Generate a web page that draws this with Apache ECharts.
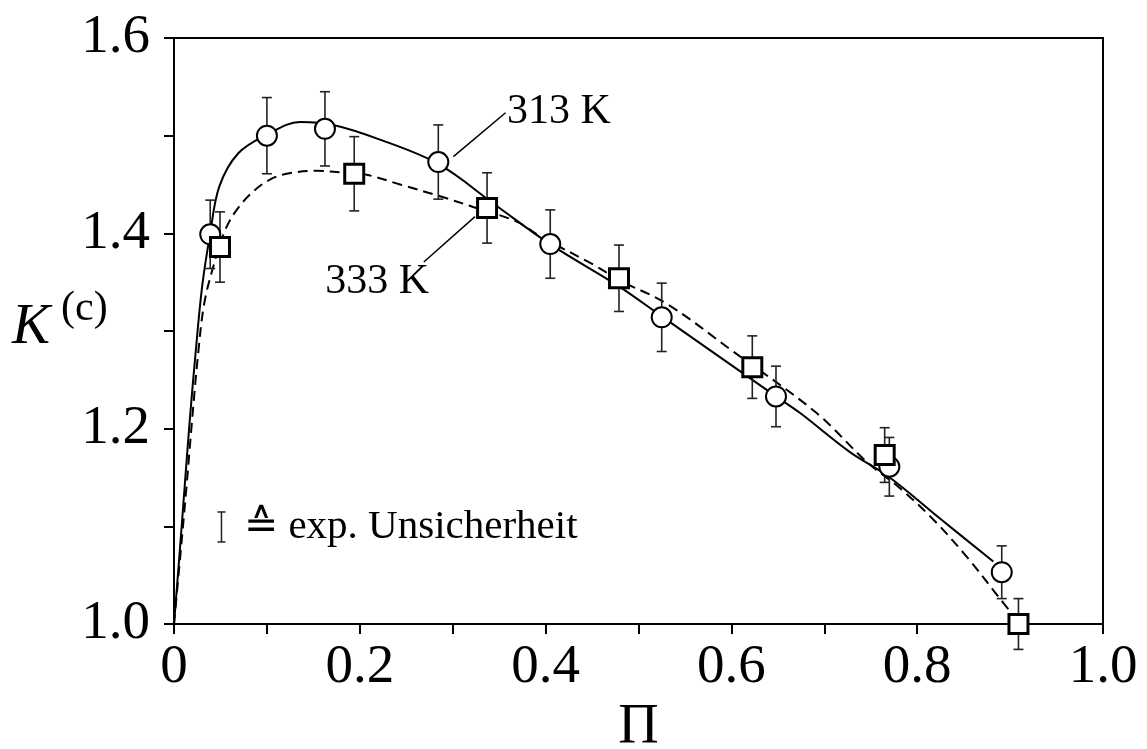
<!DOCTYPE html>
<html>
<head>
<meta charset="utf-8">
<script src="https://cdn.jsdelivr.net/npm/echarts@6/dist/echarts.min.js"></script>
<style>
  html, body { margin: 0; padding: 0; background: #fff; }
  #chart { width: 1147px; height: 749px; }
</style>
</head>
<body>
<div id="chart"></div>
<script>
// Measured K(c) values with experimental uncertainty, 313 K (circles)
const circlePi  = [0.039, 0.100, 0.1625, 0.2845, 0.405, 0.525, 0.648, 0.770, 0.891];
const circleK   = [1.399, 1.500, 1.507, 1.473, 1.389, 1.314, 1.233, 1.161, 1.053];
const circleErr = [0.035, 0.039, 0.038, 0.038, 0.035, 0.035, 0.031, 0.030, 0.027];

// Measured values, 333 K (squares)
const squarePi  = [0.0495, 0.194, 0.337, 0.479, 0.6225, 0.765, 0.909];
const squareK   = [1.386, 1.461, 1.426, 1.354, 1.263, 1.173, 1.000];
const squareErr = [0.036, 0.038, 0.036, 0.034, 0.032, 0.028, 0.026];

// Fitted curve, 313 K (solid)
const fit313Pi = [0, 0.006, 0.0115, 0.017, 0.0232, 0.0302, 0.0388, 0.0488, 0.0692, 0.100, 0.1356, 0.1715,
                  0.2217, 0.2845, 0.3474, 0.4047, 0.4801, 0.525, 0.648, 0.674, 0.7276, 0.769, 0.8245, 0.8819];
const fit313K  = [1.000, 1.072, 1.141, 1.209, 1.277, 1.345, 1.399, 1.448, 1.482, 1.501, 1.514, 1.511,
                  1.496, 1.471, 1.428, 1.389, 1.345, 1.315, 1.233, 1.216, 1.176, 1.151, 1.108, 1.064];

// Fitted curve, 333 K (dashed)
const fit333Pi = [0, 0.007, 0.0135, 0.0195, 0.026, 0.0325, 0.0423, 0.0549, 0.0675, 0.0854, 0.1033, 0.1213,
                  0.1536, 0.184, 0.2074, 0.2433, 0.2863, 0.322, 0.3689, 0.394, 0.4513, 0.4794, 0.5303, 0.602,
                  0.6918, 0.7456, 0.7815, 0.8173, 0.8532, 0.889, 0.900];
const fit333K  = [1.000, 1.072, 1.141, 1.209, 1.277, 1.328, 1.366, 1.403, 1.424, 1.443, 1.455, 1.461,
                  1.464, 1.462, 1.460, 1.450, 1.438, 1.427, 1.412, 1.397, 1.368, 1.352, 1.328, 1.279,
                  1.216, 1.166, 1.139, 1.107, 1.069, 1.026, 1.013];

const xTicks = [0, 0.2, 0.4, 0.6, 0.8, 1.0];
const yTicks = [1.0, 1.2, 1.4, 1.6];
const label313 = '313 K';
const label333 = '333 K';
const noteText = '≙ exp. Unsicherheit';

const FONT = '"Liberation Serif", "Times New Roman", "DejaVu Serif", serif';

const zip = (a, b) => a.map((v, i) => [v, b[i]]);
const errRows = (xs, ys, es) => xs.map((x, i) => [x, ys[i] - es[i], ys[i] + es[i]]);

function errorBarItem(params, api) {
  const x = api.value(0);
  const p1 = api.coord([x, api.value(1)]);
  const p2 = api.coord([x, api.value(2)]);
  const w = 5;
  const style = { stroke: '#222', lineWidth: 1.6, fill: null };
  return {
    type: 'group',
    children: [
      { type: 'line', shape: { x1: p1[0], y1: p1[1], x2: p2[0], y2: p2[1] }, style },
      { type: 'line', shape: { x1: p1[0] - w, y1: p1[1], x2: p1[0] + w, y2: p1[1] }, style },
      { type: 'line', shape: { x1: p2[0] - w, y1: p2[1], x2: p2[0] + w, y2: p2[1] }, style }
    ]
  };
}

const chart = echarts.init(document.getElementById('chart'), null, { renderer: 'canvas' });

const axisLine = { show: true, onZero: false, lineStyle: { color: '#000', width: 2 } };
const tick = { show: true, inside: false, length: 10, lineStyle: { color: '#000', width: 2 } };

chart.setOption({
  animation: false,
  backgroundColor: '#fff',
  grid: {
    left: 174, right: 44, top: 38, bottom: 125,
    containLabel: false, outerBoundsMode: 'none',
    show: true, borderColor: '#000', borderWidth: 2
  },
  xAxis: {
    type: 'value', min: 0, max: 1, interval: 0.2,
    axisLine, axisTick: tick,
    minorTick: { show: true, splitNumber: 2, length: 10, lineStyle: { color: '#000', width: 2 } },
    splitLine: { show: false },
    axisLabel: {
      color: '#000', fontFamily: FONT, fontSize: 55, margin: 16,
      formatter: v => {
        const t = xTicks.find(x => Math.abs(x - v) < 1e-9);
        return t === undefined ? '' : (t === 0 ? '0' : t.toFixed(1));
      }
    },
    name: 'Π', nameLocation: 'middle', nameGap: 76,
    nameTextStyle: { color: '#000', fontFamily: FONT, fontSize: 56 }
  },
  yAxis: {
    type: 'value', min: 1.0, max: 1.6, interval: 0.2,
    axisLine, axisTick: tick,
    minorTick: { show: true, splitNumber: 2, length: 10, lineStyle: { color: '#000', width: 2 } },
    splitLine: { show: false },
    axisLabel: {
      color: '#000', fontFamily: FONT, fontSize: 55, margin: 24,
      formatter: v => {
        const t = yTicks.find(y => Math.abs(y - v) < 1e-9);
        return t === undefined ? '' : t.toFixed(1);
      }
    }
  },
  series: [
    {
      name: '313 K fit', type: 'line', data: zip(fit313Pi, fit313K),
      smooth: 0.35, showSymbol: false, symbol: 'none', z: 2,
      lineStyle: { color: '#000', width: 2 }
    },
    {
      name: '333 K fit', type: 'line', data: zip(fit333Pi, fit333K),
      smooth: 0.35, showSymbol: false, symbol: 'none', z: 2,
      lineStyle: { color: '#000', width: 2, type: [10, 6] }
    },
    {
      name: '313 K err', type: 'custom', renderItem: errorBarItem, z: 3, clip: false,
      encode: { x: 0, y: [1, 2] }, data: errRows(circlePi, circleK, circleErr)
    },
    {
      name: '333 K err', type: 'custom', renderItem: errorBarItem, z: 3, clip: false,
      encode: { x: 0, y: [1, 2] }, data: errRows(squarePi, squareK, squareErr)
    },
    {
      name: '313 K', type: 'scatter', data: zip(circlePi, circleK), z: 4, clip: false,
      symbol: 'circle', symbolSize: 20,
      itemStyle: { color: '#fff', borderColor: '#000', borderWidth: 2, opacity: 1 }
    },
    {
      name: '333 K', type: 'scatter', data: zip(squarePi, squareK), z: 4, clip: false,
      symbol: 'rect', symbolSize: 19,
      itemStyle: { color: '#fff', borderColor: '#000', borderWidth: 3, opacity: 1 }
    }
  ]
});

// Annotations placed in data coordinates
const px = (x, y) => chart.convertToPixel({ gridIndex: 0 }, [x, y]);
const a1 = px(0.3007, 1.4785), a2 = px(0.3569, 1.5235), t313 = px(0.3585, 1.524);
const b1 = px(0.2689, 1.3706), b2 = px(0.3240, 1.4171), t333 = px(0.2745, 1.3497);
const e1 = px(0.0511, 1.1147), e2 = px(0.0511, 1.0840), tNote = px(0.0755, 1.0995);
const yMid = px(0, 1.3);

const leader = { stroke: '#000', lineWidth: 1.5 };
chart.setOption({
  graphic: [
    { type: 'line', shape: { x1: a1[0], y1: a1[1], x2: a2[0], y2: a2[1] }, style: leader, z: 10 },
    { type: 'text', x: t313[0], y: t313[1], z: 10,
      style: { text: label313, font: '42px ' + FONT, fill: '#000', textAlign: 'left', textVerticalAlign: 'middle' } },
    { type: 'line', shape: { x1: b1[0], y1: b1[1], x2: b2[0], y2: b2[1] }, style: leader, z: 10 },
    { type: 'text', x: t333[0], y: t333[1], z: 10,
      style: { text: label333, font: '42px ' + FONT, fill: '#000', textAlign: 'right', textVerticalAlign: 'middle' } },
    // uncertainty key: small error-bar glyph followed by the note
    { type: 'line', shape: { x1: e1[0], y1: e1[1], x2: e2[0], y2: e2[1] }, style: { stroke: '#222', lineWidth: 1.5 }, z: 10 },
    { type: 'line', shape: { x1: e1[0] - 4, y1: e1[1], x2: e1[0] + 4, y2: e1[1] }, style: { stroke: '#222', lineWidth: 1.5 }, z: 10 },
    { type: 'line', shape: { x1: e2[0] - 4, y1: e2[1], x2: e2[0] + 4, y2: e2[1] }, style: { stroke: '#222', lineWidth: 1.5 }, z: 10 },
    { type: 'text', x: tNote[0], y: tNote[1], z: 10,
      style: { text: noteText, font: '41px ' + FONT, fill: '#000', textAlign: 'left', textVerticalAlign: 'middle' } },
    // y-axis title K^(c)
    { type: 'text', x: 12, y: yMid[1] + 26, z: 10,
      style: { text: 'K', font: 'italic 57px ' + FONT, fill: '#000', textAlign: 'left', textVerticalAlign: 'bottom' } },
    { type: 'text', x: 61, y: yMid[1] - 22, z: 10,
      style: { text: '(c)', font: '42px ' + FONT, fill: '#000', textAlign: 'left', textVerticalAlign: 'middle' } }
  ]
});
</script>
</body>
</html>
